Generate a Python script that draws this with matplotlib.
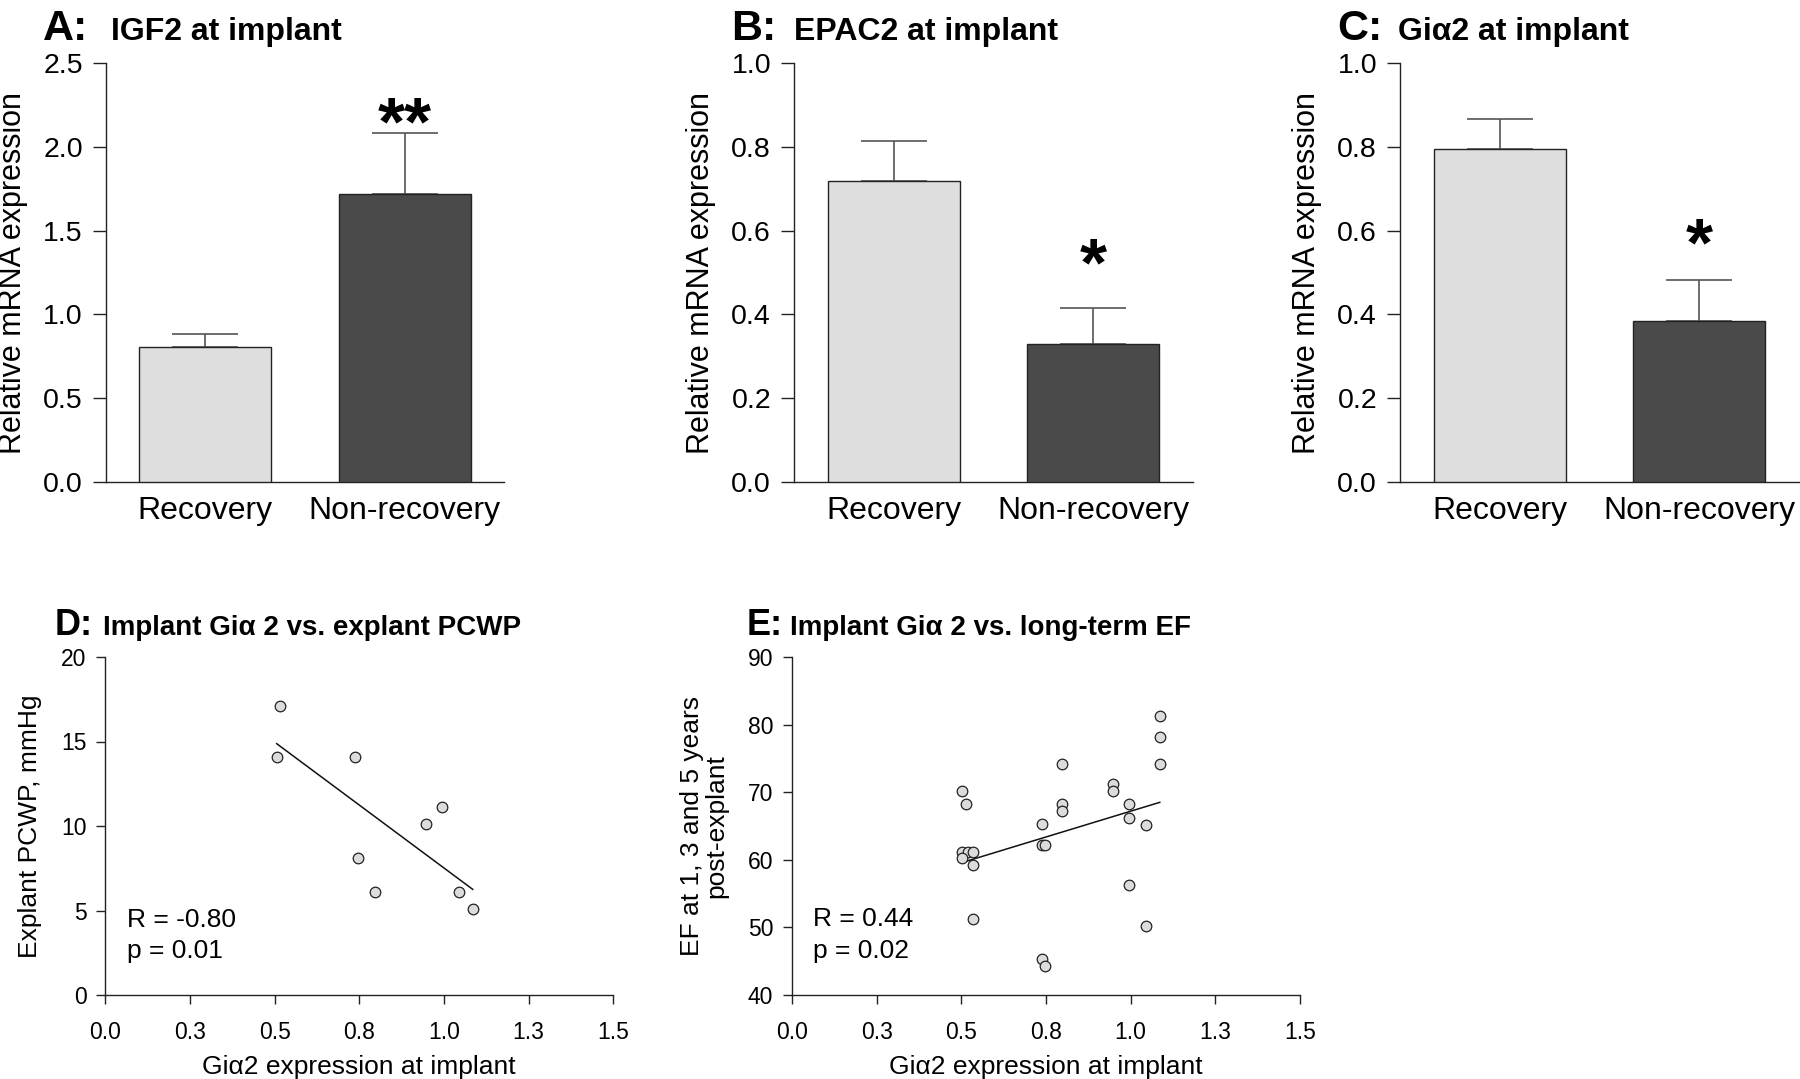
import matplotlib
matplotlib.use("Agg")
import matplotlib.pyplot as plt
import numpy as np

plt.rcParams['font.family'] = ['Liberation Sans', 'DejaVu Sans']

# bar panels A-C
groups = ['Recovery', 'Non-recovery']
igf2_mean = [0.804, 1.719]
igf2_sem = [0.078, 0.363]
epac2_mean = [0.718, 0.329]
epac2_sem = [0.097, 0.086]
gia2_mean = [0.796, 0.383]
gia2_sem = [0.070, 0.099]
stars = ['', '**'], ['', '*'], ['', '*']
star_y = [2.15, 0.523, 0.572]

# scatter panel D
d_gia2 = [0.515, 0.506, 0.737, 0.994, 0.946, 0.746, 0.797, 1.045, 1.085]
d_pcwp = [17.1, 14.1, 14.1, 11.1, 10.1, 8.1, 6.1, 6.1, 5.1]

# scatter panel E
e_gia2 = [0.503, 0.513, 0.503, 0.52, 0.535, 0.503, 0.535, 0.535,
          0.738, 0.738, 0.748, 0.738, 0.748,
          0.798, 0.798, 0.798,
          0.948, 0.948,
          0.995, 0.995, 0.995,
          1.044, 1.044,
          1.086, 1.086, 1.086]
e_ef = [70.2, 68.2, 61.2, 61.2, 61.2, 60.2, 59.3, 51.2,
        65.3, 62.2, 62.2, 45.3, 44.3,
        74.2, 68.3, 67.2,
        71.2, 70.2,
        68.2, 66.2, 56.2,
        65.2, 50.2,
        81.2, 78.2, 74.2]

xticks_sc = [0, 0.25, 0.5, 0.75, 1.0, 1.25, 1.5]
xtick_labels_sc = ['0.0', '0.3', '0.5', '0.8', '1.0', '1.3', '1.5']

light = '#dedede'
dark = '#4a4a4a'
W, H = 1800, 1079

fig = plt.figure(figsize=(18, 10.79), dpi=100)


def px(l, t, r, b):
    return [l / W, 1 - b / H, (r - l) / W, (b - t) / H]


def title(x_letter, x_text, y, letter, text, size_l, size_t):
    fig.text(x_letter / W, 1 - y / H, letter, fontsize=size_l, fontweight='bold',
             va='baseline', ha='left')
    fig.text(x_text / W, 1 - y / H, text, fontsize=size_t, fontweight='bold',
             va='baseline', ha='left')


def style(ax, lw=1.0):
    for s in ['top', 'right']:
        ax.spines[s].set_visible(False)
    for s in ['left', 'bottom']:
        ax.spines[s].set_linewidth(lw)
        ax.spines[s].set_color('#222222')


def bar_panel(rect, means, sems, ymax, step, star, sy):
    ax = fig.add_axes(rect)
    x = np.arange(len(groups))
    ax.bar(x, means, width=0.662, color=[light, dark], edgecolor='#222222',
           linewidth=1.0, zorder=3)
    ax.errorbar(x, means, yerr=[[0, 0], sems], fmt='none', ecolor='#555555',
                elinewidth=1.2, capsize=24, capthick=1.2, zorder=2)
    for i, s in enumerate(star):
        if s:
            ax.annotate(s, xy=(x[i], sy), xytext=(0, -0.43 * 50 + 5),
                        textcoords='offset points', ha='center', va='baseline',
                        fontsize=50, fontweight='bold')
    ax.set_xlim(-0.5, 1.5)
    ax.set_ylim(0, ymax)
    ax.set_yticks(np.arange(0, ymax + 1e-9, step))
    ax.set_yticklabels([f'{v:.1f}' for v in np.arange(0, ymax + 1e-9, step)])
    ax.set_xticks(x)
    ax.set_xticklabels(groups, fontsize=23)
    ax.tick_params(axis='x', length=0, pad=10)
    ax.tick_params(axis='y', length=9.5, width=1.0, pad=7, labelsize=20.5,
                   color='#222222')
    ax.set_ylabel('Relative mRNA expression', fontsize=22, labelpad=11)
    style(ax)
    return ax


bar_panel(px(105.7, 63.3, 504.3, 481.7), igf2_mean, igf2_sem, 2.5, 0.5,
          stars[0], star_y[0])
bar_panel(px(794, 63.3, 1192.6, 481.7), epac2_mean, epac2_sem, 1.0, 0.2,
          stars[1], star_y[1])
bar_panel(px(1400, 63.3, 1798.6, 481.7), gia2_mean, gia2_sem, 1.0, 0.2,
          stars[2], star_y[2])

title(43, 111, 40, 'A:', 'IGF2 at implant', 31, 23)
title(731, 794, 40, 'B:', 'EPAC2 at implant', 31, 23)
title(1337, 1398, 40, 'C:', 'Gi\u03b12 at implant', 31, 23)


def scatter_panel(rect, xs, ys, ylim, ystep, ylabel, rtext, ptext, ry, py):
    ax = fig.add_axes(rect)
    ax.scatter(xs, ys, s=58, facecolor='#dcdcdc', edgecolor='#222222',
               linewidth=0.9, zorder=3)
    k, b = np.polyfit(xs, ys, 1)
    lx = np.array([min(xs), max(xs)])
    ax.plot(lx, k * lx + b, color='#111111', lw=1.1, zorder=2)
    ax.set_xlim(0, 1.5)
    ax.set_ylim(*ylim)
    ax.set_xticks(xticks_sc)
    ax.set_xticklabels(xtick_labels_sc)
    ax.set_yticks(np.arange(ylim[0], ylim[1] + 1, ystep))
    ax.tick_params(length=6.5, width=1.0, labelsize=16.5, color='#222222')
    ax.tick_params(axis='x', pad=12)
    ax.tick_params(axis='y', pad=7)
    ax.set_xlabel('Gi\u03b12 expression at implant', fontsize=19, labelpad=8)
    ax.set_ylabel(ylabel, fontsize=19, labelpad=14, linespacing=1.0)
    ax.text(0.063, ry, rtext, fontsize=19, va='baseline')
    ax.text(0.063, py, ptext, fontsize=19, va='baseline')
    style(ax)
    return ax


scatter_panel(px(105.3, 657, 613.3, 995), d_gia2, d_pcwp, (0, 20), 5,
              'Explant PCWP, mmHg', 'R = -0.80', 'p = 0.01', 4.05, 2.17)
scatter_panel(px(792, 657, 1300, 995), e_gia2, e_ef, (40, 90), 10,
              'EF at 1, 3 and 5 years\npost-explant', 'R = 0.44', 'p = 0.02',
              50.2, 45.5)

title(55, 103, 635, 'D:', 'Implant Gi\u03b1 2 vs. explant PCWP', 26, 20)
title(747, 790, 635, 'E:', 'Implant Gi\u03b1 2 vs. long-term EF', 26, 20)

fig.savefig('out.png', dpi=100)
